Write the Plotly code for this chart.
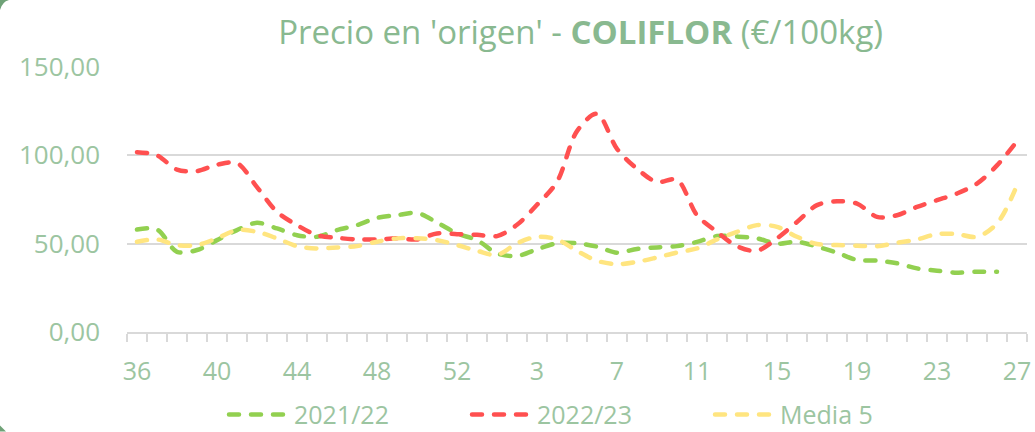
import plotly.graph_objects as go

weeks = [str(w) for w in list(range(36, 54)) + list(range(1, 28))]
tick_labels = ["36", "40", "44", "48", "52", "3", "7", "11", "15", "19", "23", "27"]

s2122 = [58, 58, 45.4, 46.4, 52, 57.7, 61.8, 58.6, 54.8, 53.9, 57.7, 60.5, 64.6, 66.1, 67.4, 62,
         55.8, 52, 44.5, 43, 46.8, 50.2, 50.2, 48.3, 44.9, 47, 47.9, 48.6, 51, 54.3, 54, 53,
         50, 51.1, 48.3, 44.9, 40.8, 40.4, 38.9, 36, 34.7, 33.6, 34.1, 34.1, None]
s2223 = [101.8, 100, 91.9, 91.1, 94.7, 95.6, 82, 68, 60.5, 54.8, 53.3, 52.4, 52.4, 53, 52.4, 55.8,
         55.4, 55, 54.3, 60.7, 72, 85, 113.7, 123.5, 103.7, 92.4, 84.9, 86.2, 66.1, 56.7, 48.5, 46,
         53, 62.3, 71.8, 74, 72.7, 65.2, 66.1, 70.8, 74.6, 78.4, 84, 94.3, 108]
media5 = [51.1, 52.4, 49.2, 49.2, 53, 57.7, 56.7, 53, 48.6, 47.3, 47.8, 48.6, 51.1, 53, 53, 52,
          49.2, 46, 43.6, 50.2, 53.9, 52.4, 45.9, 40.3, 38.4, 39.7, 42.2, 45, 47.3, 52.4, 56.7, 60.5,
          59.5, 53.9, 49.8, 49.2, 48.8, 48.6, 50.5, 52.4, 55.4, 55.4, 53.9, 61.4, 83]

names = ["2021/22", "2022/23", "Media 5"]
colors = ["#92D050", "#FF5050", "#FFE580"]
series = [s2122, s2223, media5]

TXT = "#9CC5A1"
FONT = "Open Sans"

fig = go.Figure()
for n, c, s in zip(names, colors, series):
    fig.add_trace(go.Scatter(
        x=weeks, y=s, name=n, mode="lines",
        line=dict(color=c, width=4.5, dash="10px,12px", shape="spline", smoothing=0.9),
        connectgaps=False,
    ))

ticktext = [w if w in tick_labels else "" for w in weeks]

fig.update_layout(
    width=1035, height=432,
    margin=dict(l=127, r=8, t=67, b=100, autoexpand=False),
    paper_bgcolor="white", plot_bgcolor="white",
    separators=",.",
    font=dict(family=FONT, color=TXT, size=25),
    title=dict(
        text="Precio en 'origen' - <b>COLIFLOR</b> (€/100kg)",
        x=0.504, xref="paper", xanchor="center",
        y=1 - 32 / 432, yref="container", yanchor="middle",
        font=dict(family=FONT, size=33, color="#89B990"),
    ),
    xaxis=dict(
        type="category", categoryorder="array", categoryarray=weeks,
        tickmode="array", tickvals=weeks, ticktext=ticktext, tickangle=0,
        tickson="boundaries", ticks="outside", ticklen=8, tickcolor="#D9D9D9", tickwidth=1.5,
        showline=True, linecolor="#D9D9D9", linewidth=1.5, automargin=False,
        showgrid=False, ticklabelstandoff=16,
        tickfont=dict(size=25, color=TXT, family=FONT),
        range=[-0.5, 44.5],
    ),
    yaxis=dict(
        range=[0, 150], dtick=50, tickformat=".2f", automargin=False,
        showgrid=True, gridcolor="#D9D9D9", gridwidth=1.5,
        zeroline=False, ticks="", ticklabelstandoff=26,
        tickfont=dict(size=26, color=TXT, family=FONT),
    ),
    showlegend=True,
    legend=dict(
        orientation="h", x=(224 - 127) / 900, xanchor="left", y=-0.312, yanchor="middle",
        font=dict(size=25, color=TXT, family=FONT),
        entrywidth=168, entrywidthmode="pixels", itemwidth=60,
        bgcolor="rgba(0,0,0,0)",
    ),
)

# decorative rounded panel corners (outside of plot)
def px2paper(px, py):
    return (px - 127) / 900, (332.3 - py) / 265.3

x0, y0 = px2paper(0, 0)
x1, y1 = px2paper(9, 0)
x2, y2 = px2paper(0, 10)
xc, yc = px2paper(2, 2)
fig.add_shape(type="path", xref="paper", yref="paper",
              path=f"M {x0},{y0} L {x1},{y1} Q {xc},{yc} {x2},{y2} Z",
              fillcolor="#6FA277", line=dict(width=0), layer="above")
bx0, by0 = px2paper(0, 426)
bx1, by1 = px2paper(0, 432)
bx2, by2 = px2paper(6, 432)
fig.add_shape(type="path", xref="paper", yref="paper",
              path=f"M {bx0},{by0} L {bx1},{by1} L {bx2},{by2} Z",
              fillcolor="#6FA277", line=dict(width=0), layer="above")

post = """
document.body.style.margin='0';
document.body.style.overflow='hidden';
document.querySelectorAll('.scatterlayer .js-line, .legendlines path').forEach(function(p){
  p.style.strokeLinecap='round';
});
"""
fig.write_html("out.html", post_script=post, config={"displayModeBar": False})
